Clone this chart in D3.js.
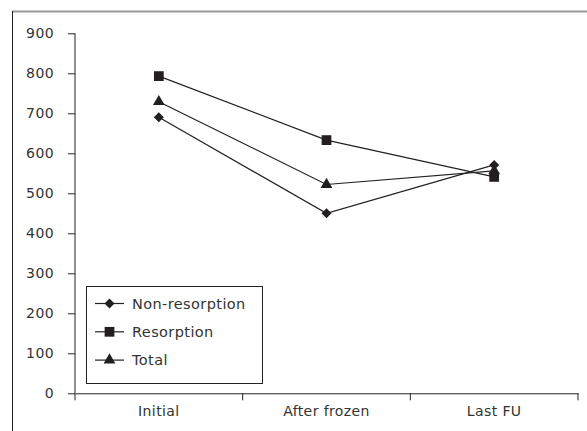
<!DOCTYPE html>
<html lang="en">
<head>
    <meta charset="UTF-8">
    <title>Chart</title>
    <script src="https://cdn.jsdelivr.net/npm/d3@7"></script>
    <style>
        body { margin: 0; background: #fff; }
        text { font-family: "DejaVu Sans", sans-serif; fill: #333; letter-spacing: 0.4px; }
    </style>
</head>
<body>
    <div id="chart"></div>
    <script>
        // data
        const categories = ["Initial", "After frozen", "Last FU"];
        const nonResorption = [690, 450, 571];
        const resorption = [793, 633, 541];
        const total = [729, 522, 556];
        const yTicks = [0, 100, 200, 300, 400, 500, 600, 700, 800, 900];

        // square diamond (rotated square), d3's own one is too narrow
        const squareDiamond = {
            draw(ctx, size) {
                const r = Math.sqrt(size / 2);
                ctx.moveTo(0, -r); ctx.lineTo(r, 0); ctx.lineTo(0, r); ctx.lineTo(-r, 0); ctx.closePath();
            }
        };

        const series = [
            { name: "Non-resorption", values: nonResorption, symbol: squareDiamond, size: 50 },
            { name: "Resorption", values: resorption, symbol: d3.symbolSquare, size: 95 },
            { name: "Total", values: total, symbol: d3.symbolTriangle, size: 60 }
        ];

        const width = 587, height = 431;
        const svg = d3.select("#chart").append("svg")
            .attr("width", width).attr("height", height);

        // outer frame: gray top rule, dark left rule
        svg.append("line").attr("x1", 12).attr("x2", 587).attr("y1", 11.5).attr("y2", 11.5)
            .attr("stroke", "#999").attr("stroke-width", 2);
        svg.append("line").attr("x1", 12.5).attr("x2", 12.5).attr("y1", 11).attr("y2", 431)
            .attr("stroke", "#222").attr("stroke-width", 1);

        const plotL = 75, plotR = 578, plotT = 33.3, plotB = 393.3;

        const x = d3.scaleBand().domain(categories).range([plotL, plotR]);
        const y = d3.scaleLinear().domain([0, 900]).range([plotB, plotT]);

        // y axis
        const yAxis = svg.append("g").attr("transform", `translate(${plotL},0)`)
            .call(d3.axisLeft(y).tickValues(yTicks).tickSize(7).tickPadding(14));
        // x axis
        const xAxis = svg.append("g").attr("transform", `translate(0,${plotB})`)
            .call(d3.axisBottom(x).tickSize(0).tickPadding(13));
        // x tick marks at band edges
        xAxis.selectAll(".edge")
            .data([plotL, ...categories.map(c => x(c) + x.bandwidth())])
            .join("line")
            .attr("class", "edge")
            .attr("x1", d => d).attr("x2", d => d)
            .attr("y1", 0).attr("y2", 7)
            .attr("stroke", "#222");

        [yAxis, xAxis].forEach(a => {
            a.selectAll("path, line").attr("stroke", "#222");
            a.selectAll("text").style("font-size", "14px").attr("fill", "#333");
        });
        yAxis.select(".domain").attr("d", `M0,${plotT}V${plotB}`);

        const cx = c => x(c) + x.bandwidth() / 2;
        const line = d3.line().x((d, i) => cx(categories[i])).y(d => y(d));

        const g = svg.append("g");
        series.forEach(s => {
            g.append("path").attr("d", line(s.values))
                .attr("fill", "none").attr("stroke", "#222").attr("stroke-width", 1.2);
        });
        series.forEach(s => {
            g.selectAll(null).data(s.values).join("path")
                .attr("d", d3.symbol().type(s.symbol).size(s.size))
                .attr("transform", (d, i) => `translate(${cx(categories[i])},${y(d)})`)
                .attr("fill", "#231f20");
        });

        // legend
        const lg = svg.append("g");
        lg.append("rect").attr("x", 86.5).attr("y", 286.5).attr("width", 176).attr("height", 97)
            .attr("fill", "#fff").attr("stroke", "#222");
        series.forEach((s, i) => {
            const ly = 303.5 + i * 28.3;
            lg.append("line").attr("x1", 95).attr("x2", 124).attr("y1", ly).attr("y2", ly)
                .attr("stroke", "#222").attr("stroke-width", 1.2);
            lg.append("path").attr("d", d3.symbol().type(s.symbol).size(s.size)())
                .attr("transform", `translate(109.5,${ly})`).attr("fill", "#231f20");
            lg.append("text").attr("x", 132).attr("y", ly).attr("dy", "0.35em")
                .style("font-size", "14.5px").text(s.name);
        });
    </script>
</body>
</html>
